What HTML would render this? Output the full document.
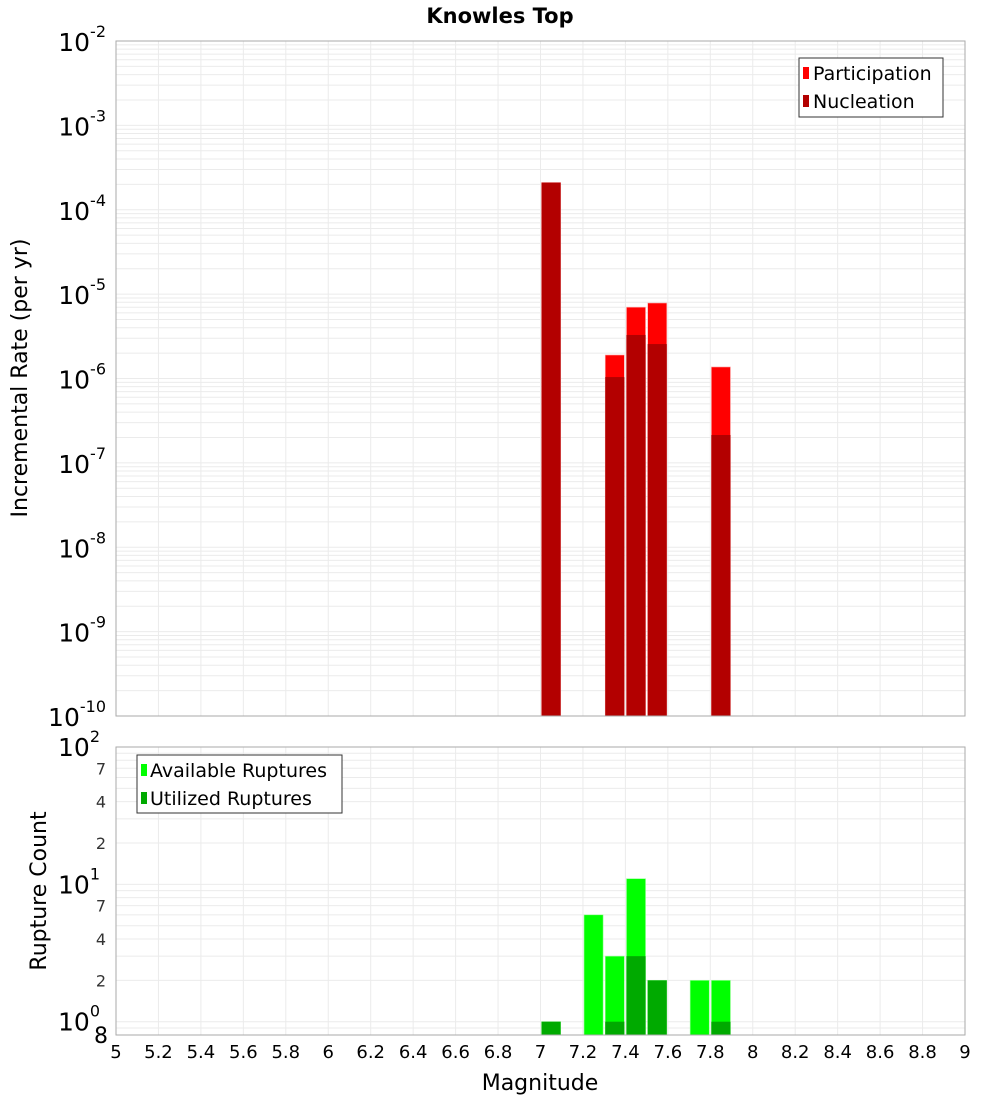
<!DOCTYPE html>
<html><head><meta charset="utf-8"><style>
body{margin:0;background:#fff;}
svg{font-family:"DejaVu Sans","Liberation Sans",sans-serif;}
</style></head><body>
<svg id="c" width="1000" height="1100" xmlns="http://www.w3.org/2000/svg">
<text x="500" y="23" text-anchor="middle" font-size="21" font-weight="bold">Knowles Top</text>
<g id="topPanel"></g>
<g id="botPanel"></g>
<text x="540" y="1090" text-anchor="middle" font-size="22">Magnitude</text>
<text transform="translate(27,378) rotate(-90)" text-anchor="middle" font-size="22">Incremental Rate (per yr)</text>
<text transform="translate(46,891) rotate(-90)" text-anchor="middle" font-size="22">Rupture Count</text>
<g id="legends"></g>
</svg>
<script>
const magnitudes=[7.05,7.35,7.45,7.55,7.85];
const participation=[2.1e-4,1.9e-6,7.0e-6,7.85e-6,1.37e-6];
const nucleation=[2.1e-4,1.04e-6,3.28e-6,2.56e-6,2.14e-7];
const countMags=[7.05,7.25,7.35,7.45,7.55,7.75,7.85];
const available=[1,6,3,11,2,2,2];
const utilized=[1,0,1,3,2,0,1];
const xTicks=["5","5.2","5.4","5.6","5.8","6","6.2","6.4","6.6","6.8","7","7.2","7.4","7.6","7.8","8","8.2","8.4","8.6","8.8","9"];
const topExps=[-2,-3,-4,-5,-6,-7,-8,-9,-10];
const NS="http://www.w3.org/2000/svg";
const X0=116,X1=965;
const xs=m=>X0+(m-5)/4*(X1-X0);
const T0=41,T1=716; const yTop=v=>T0+(-2-Math.log10(v))/8*(T1-T0);
const B0=747,B1=1035; const lb0=Math.log10(0.8); const yBot=v=>B0+(2-Math.log10(v))/(2-lb0)*(B1-B0);
function mk(tag,attrs,parent){const e=document.createElementNS(NS,tag);for(const k in attrs)e.setAttribute(k,attrs[k]);parent.appendChild(e);return e;}
const topG=document.getElementById('topPanel'),botG=document.getElementById('botPanel');
function grid(g,y0,y1,yf,lo,hi){
 mk('rect',{x:X0,y:y0,width:X1-X0,height:y1-y0,fill:'#fff'},g);
 for(let i=0;i<=20;i++){mk('line',{x1:xs(5+i*0.2),x2:xs(5+i*0.2),y1:y0,y2:y1,stroke:'#ebebeb'},g);}
 for(let e=lo;e<hi;e++)for(let k=1;k<10;k++){const v=k*Math.pow(10,e);const yy=yf(v);if(yy<y0-0.5||yy>y1+0.5)continue;mk('line',{x1:X0,x2:X1,y1:yy,y2:yy,stroke:'#ebebeb'},g);}
}
grid(topG,T0,T1,yTop,-10,-2);grid(botG,B0,B1,yBot,-1,2);
magnitudes.forEach((m,i)=>{
 const bx=xs(m-0.045),bw=xs(m+0.045)-bx;
 const p=mk('rect',{x:bx,y:yTop(participation[i]),width:bw,height:T1-yTop(participation[i]),fill:'#ff0000',stroke:'#ffb0b0','stroke-width':0.6},topG);
 
 
 const n=mk('rect',{x:bx,y:yTop(nucleation[i]),width:bw,height:T1-yTop(nucleation[i]),fill:'#b30000'},topG);
 
 
});
countMags.forEach((m,i)=>{
 const bx=xs(m-0.045),bw=xs(m+0.045)-bx;
 if(available[i]>0){const a=mk('rect',{x:bx,y:yBot(available[i]),width:bw,height:B1-yBot(available[i]),fill:'#00ff00',stroke:'#a0ffa0','stroke-width':0.6},botG);
 
 }
 if(utilized[i]>0){const u=mk('rect',{x:bx,y:yBot(utilized[i]),width:bw,height:B1-yBot(utilized[i]),fill:'#00aa00'},botG);
 
 }
});
mk('rect',{x:X0,y:T0,width:X1-X0,height:T1-T0,fill:'none',stroke:'#aaa'},topG);
mk('rect',{x:X0,y:B0,width:X1-X0,height:B1-B0,fill:'none',stroke:'#aaa'},botG);
topExps.forEach(e=>{const yy=yTop(Math.pow(10,e));const t=mk('text',{x:106,y:yy+10,'text-anchor':'end','font-size':25},topG);
 
 
 t.textContent='10';const s=mk('tspan',{dy:-14,'font-size':16},t);s.textContent=String(e);});
[[100,'2'],[10,'1'],[1,'0']].forEach(([v,e])=>{const yy=yBot(v);const t=mk('text',{x:100,y:yy+9,'text-anchor':'end','font-size':25},botG);
 
 
 t.textContent='10';const s=mk('tspan',{dy:-14,'font-size':16},t);s.textContent=e;});
[70,40,20,7,4,2,0.8].forEach(v=>{const yy=yBot(v);const big=v===0.8;const t=mk('text',{x:big?108:106,y:yy+(big?8:6),'text-anchor':'end','font-size':big?22:16,fill:big?'#000':'#333'},botG);
 
 
 t.textContent=v===0.8?'8':String(v)[0];});
xTicks.forEach(s=>{const t=mk('text',{x:xs(parseFloat(s)),y:1058,'text-anchor':'middle','font-size':18},botG);
 
 
 t.textContent=s;});
// legends on top
const lg=document.getElementById('legends');
const L1=mk('g',{},lg);


mk('rect',{x:799,y:58,width:144,height:59,fill:'#fff',stroke:'#333'},L1);
mk('rect',{x:803,y:67,width:6,height:12,fill:'#ff0000'},L1);
mk('text',{x:813,y:80,'font-size':19},L1).textContent='Participation';
mk('rect',{x:803,y:95,width:6,height:12,fill:'#b30000'},L1);
mk('text',{x:813,y:108,'font-size':19},L1).textContent='Nucleation';
const L2=mk('g',{},lg);


mk('rect',{x:137,y:755,width:205,height:58,fill:'#fff',stroke:'#333'},L2);
mk('rect',{x:141,y:764,width:6,height:12,fill:'#00ff00'},L2);
mk('text',{x:150,y:777,'font-size':19},L2).textContent='Available Ruptures';
mk('rect',{x:141,y:792,width:6,height:12,fill:'#00aa00'},L2);
mk('text',{x:150,y:805,'font-size':19},L2).textContent='Utilized Ruptures';
</script>
</body></html>
